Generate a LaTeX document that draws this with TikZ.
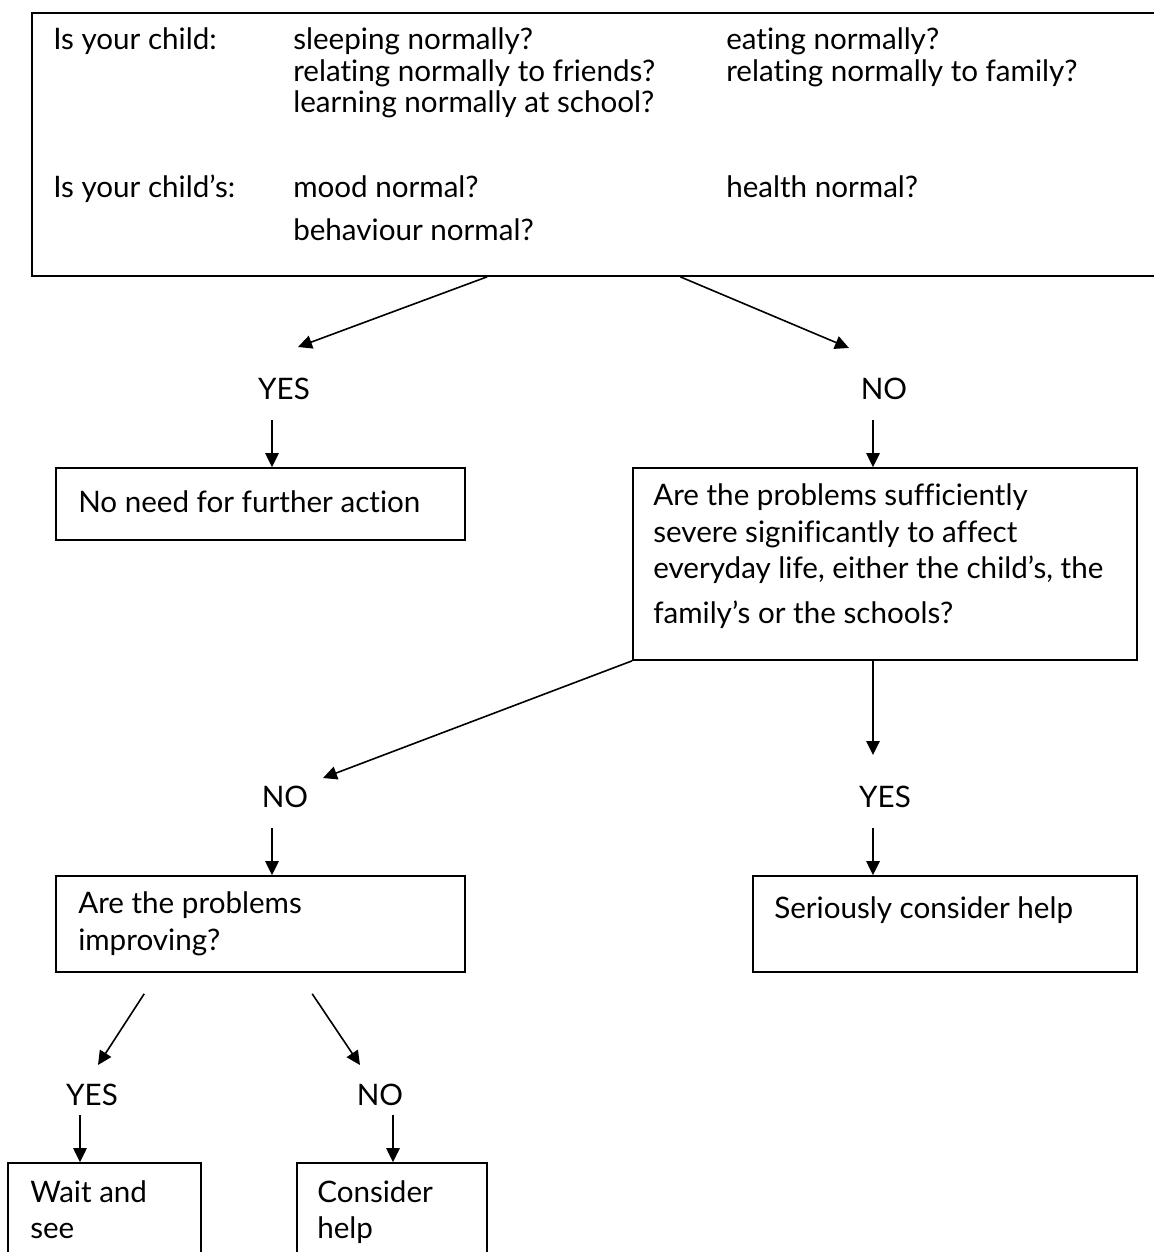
\documentclass[tikz,border=0pt]{standalone}
\usepackage{fontspec}
\setmainfont{Lato}[Ligatures={NoCommon}]
\usetikzlibrary{arrows.meta}
\usetikzlibrary{calc}
\usetikzlibrary{fit}

\newcommand{\flowfont}{\fontsize{22.2}{26}\selectfont}

\tikzset{
  box/.style={draw, line width=1.2pt, inner sep=0pt},
  txt/.style={anchor=base west, inner sep=0pt, font=\flowfont},
  ans/.style={anchor=base, inner sep=0pt, font=\flowfont},
  arr/.style={line width=1.2pt, -{Triangle[length=10.5pt,width=10pt]}},
}

\begin{document}
\begin{tikzpicture}[x=0.75pt,y=0.75pt,yscale=-1,xscale=1]
\useasboundingbox (0,0) rectangle (1153,1252);

%Shape: Rectangle [query]
\node[box, fit={(32,13) (1160,276)}] (query) {};
%Shape: Rectangle [no further action]
\node[box, fit={(56,468) (465,540)}] (nofurther) {};
%Shape: Rectangle [severe]
\node[box, fit={(633,468) (1137,660)}] (severe) {};
%Shape: Rectangle [improving]
\node[box, fit={(56,876) (465,972)}] (improving) {};
%Shape: Rectangle [serious]
\node[box, fit={(753,876) (1137,972)}] (serious) {};
%Shape: Rectangle [wait]
\node[box, fit={(8,1163) (201,1265)}] (waitsee) {};
%Shape: Rectangle [consider]
\node[box, fit={(297,1163) (487,1265)}] (consider) {};

% Text Node
\node[txt] (childA) at (53,50) {Is your child:};
\node[txt] (sleep) at (293,50) {sleeping normally?};
\node[txt] (eat) at (726,50) {eating normally?};
\node[txt] (friends) at (293,82) {relating normally to friends?};
\node[txt] (family) at (726,82) {relating normally to family?};
\node[txt] (learn) at (293,113) {learning normally at school?};
\node[txt] (childB) at (53,197) {Is your child’s:};
\node[txt] (mood) at (293,197) {mood normal?};
\node[txt] (health) at (726,197) {health normal?};
\node[txt] (behave) at (293,240) {behaviour normal?};
% Text Node
\node[txt] (nofurthertxt) at (78,512) {No need for further action};
% Text Node
\node[txt] (severeA) at (653,505) {Are the problems sufficiently};
\node[txt] (severeB) at (653,542) {severe significantly to affect};
\node[txt] (severeC) at (653,578) {everyday life, either the child’s, the};
\node[txt] (severeD) at (653,623) {family’s or the schools?};
% Text Node
\node[txt] (improvA) at (78,913) {Are the problems};
\node[txt] (improvB) at (78,950) {improving?};
% Text Node
\node[txt] (serioustxt) at (774,918) {Seriously consider help};
% Text Node
\node[txt] (waitA) at (30,1202) {Wait and};
\node[txt] (waitB) at (30,1238) {see};
\node[txt] (considerA) at (317,1202) {Consider};
\node[txt] (considerB) at (317,1238) {help};

% Text Node [answers]
\node[ans] (yesA) at (284,399) {YES};
\node[ans] (noA) at (884,399) {NO};
\node[ans] (noB) at (285,807) {NO};
\node[ans] (yesB) at (885,807) {YES};
\node[ans] (yesC) at (92,1105) {YES};
\node[ans] (noC) at (380,1105) {NO};

%Straight Lines
\draw[arr] ($(query.south west)+(456,0)$) -- ($(yesA.base)+(14,-52)$);
\draw[arr] ($(query.south west)+(649,0)$) -- ($(noA.base)+(-35,-51)$);
%Straight Lines
\coordinate (yesAout) at ($(yesA.base)+(-12,21)$);
\draw[arr] (yesAout) -- (yesAout |- nofurther.north);
\coordinate (noAout) at ($(noA.base)+(-11,21)$);
\draw[arr] (noAout) -- (noAout |- severe.north);
%Straight Lines
\draw[arr] (severe.south -| noAout) -- ($(yesB.base)+(-12,-52)$);
\draw[arr] (severe.south west) -- ($(noB.base)+(38,-29)$);
%Straight Lines
\coordinate (noBout) at ($(noB.base)+(-13,21)$);
\draw[arr] (noBout) -- (noBout |- improving.north);
\coordinate (yesBout) at ($(yesB.base)+(-12,21)$);
\draw[arr] (yesBout) -- (yesBout |- serious.north);
%Straight Lines
\draw[arr] ($(improving.south west)+(89,21)$) -- ($(yesC.base)+(6,-40)$);
\draw[arr] ($(improving.south west)+(257,21)$) -- ($(noC.base)+(-20,-40)$);
%Straight Lines
\coordinate (yesCout) at ($(yesC.base)+(-12,10)$);
\draw[arr] (yesCout) -- (yesCout |- waitsee.north);
\coordinate (noCout) at ($(noC.base)+(13,10)$);
\draw[arr] (noCout) -- (noCout |- consider.north);

\end{tikzpicture}
\end{document}
